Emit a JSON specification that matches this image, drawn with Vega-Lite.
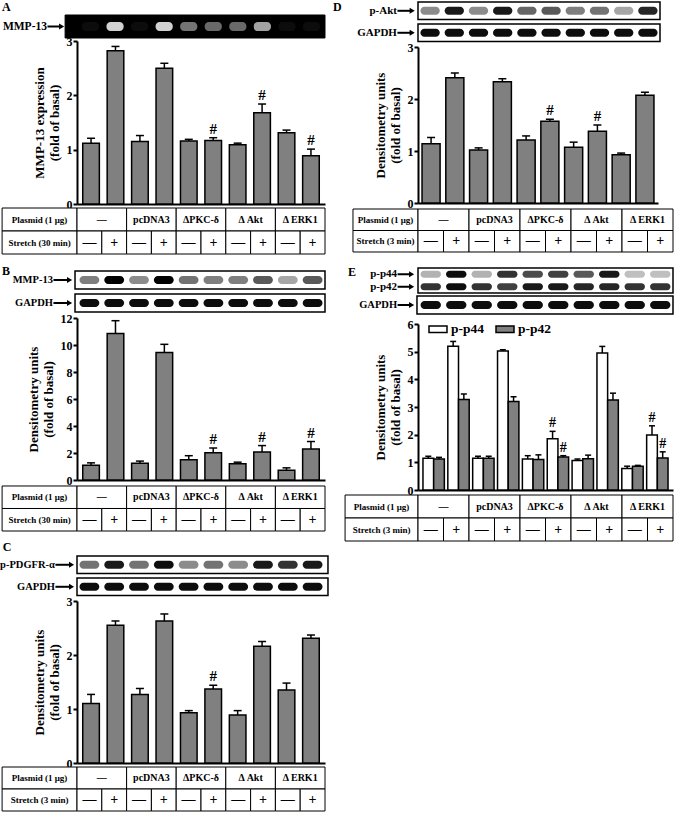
{
"$schema": "https://vega.github.io/schema/vega-lite/v6.json",
"background": "white",
"padding": {"left": 0, "top": 0, "right": 0, "bottom": 0},
"spacing": 4,
"resolve": {"scale": {"fill": "independent"}, "legend": {"fill": "independent"}},
"hconcat": [
{"bounds": "flush", "spacing": 0, "vconcat": [
  {"width": 248, "height": 39, "resolve": {"scale": {"x": "independent"}},
   "layer": [
    {"data": {"values": [{"strip": "MMP-13"}]},
     "encoding": {"y": {"field": "strip", "type": "nominal", "scale": {"domain": ["MMP-13"], "paddingInner": 0, "paddingOuter": 0.348, "align": 0.8125}, "axis": null}},
     "layer": [
      {"mark": {"type": "rect", "fill": "black", "stroke": "black", "strokeWidth": 1}, "encoding": {"x": {"datum": -0.48, "type": "quantitative", "scale": {"domain": [0, 10], "nice": false, "zero": false}, "axis": null}, "x2": {"datum": 10}}},
      {"mark": {"type": "text", "align": "right", "fontSize": 11.5}, "encoding": {"x": {"datum": -1.21, "type": "quantitative", "scale": {"domain": [0, 10], "nice": false, "zero": false}, "axis": null}, "text": {"field": "strip"}}},
      {"mark": {"type": "rule", "color": "black", "strokeWidth": 2}, "encoding": {"x": {"datum": -1.19, "type": "quantitative", "scale": {"domain": [0, 10], "nice": false, "zero": false}, "axis": null}, "x2": {"datum": -0.65}}},
      {"mark": {"type": "point", "shape": "triangle-right", "filled": true, "color": "black", "opacity": 1, "size": 35}, "encoding": {"x": {"datum": -0.62, "type": "quantitative", "scale": {"domain": [0, 10], "nice": false, "zero": false}, "axis": null}}},
      {"mark": {"type": "text", "align": "left", "dy": -19.5, "fontSize": 12}, "encoding": {"x": {"datum": -3.02, "type": "quantitative", "scale": {"domain": [0, 10], "nice": false, "zero": false}, "axis": null}, "text": {"value": "A"}}}
     ]},
    {"data": {"values": [
      {"lane": 1, "strip": "MMP-13", "v": 0.05}, {"lane": 2, "strip": "MMP-13", "v": 0.9},
      {"lane": 3, "strip": "MMP-13", "v": 0.05}, {"lane": 4, "strip": "MMP-13", "v": 0.9},
      {"lane": 5, "strip": "MMP-13", "v": 0.5}, {"lane": 6, "strip": "MMP-13", "v": 0.45},
      {"lane": 7, "strip": "MMP-13", "v": 0.45}, {"lane": 8, "strip": "MMP-13", "v": 0.7},
      {"lane": 9, "strip": "MMP-13", "v": 0.05}, {"lane": 10, "strip": "MMP-13", "v": 0.05}]},
     "mark": {"type": "rect", "fill": "#e8e8e8", "cornerRadius": 4, "height": {"band": 0.4}},
     "encoding": {
      "x": {"field": "lane", "type": "ordinal", "scale": {"paddingInner": 0.3, "paddingOuter": 0.2}, "axis": null},
      "y": {"field": "strip", "type": "nominal", "scale": {"domain": ["MMP-13"]}, "axis": null},
      "opacity": {"field": "v", "type": "quantitative", "scale": {"domain": [0, 1], "range": [0, 1]}, "legend": null}}}
   ]},
  {"width": 248, "height": 163,
   "data": {"values": [
    {"lane": 1, "mean": 1.12, "upper": 1.21, "sig": ""},
    {"lane": 2, "mean": 2.82, "upper": 2.9, "sig": ""},
    {"lane": 3, "mean": 1.15, "upper": 1.26, "sig": ""},
    {"lane": 4, "mean": 2.5, "upper": 2.59, "sig": ""},
    {"lane": 5, "mean": 1.16, "upper": 1.19, "sig": ""},
    {"lane": 6, "mean": 1.17, "upper": 1.22, "sig": "#"},
    {"lane": 7, "mean": 1.09, "upper": 1.12, "sig": ""},
    {"lane": 8, "mean": 1.68, "upper": 1.84, "sig": "#"},
    {"lane": 9, "mean": 1.31, "upper": 1.36, "sig": ""},
    {"lane": 10, "mean": 0.89, "upper": 1.01, "sig": "#"}]},
   "encoding": {"x": {"field": "lane", "type": "ordinal", "scale": {"paddingInner": 0.32, "paddingOuter": 0.235}, "axis": {"title": null, "labels": false, "ticks": false}}},
   "layer": [
    {"mark": {"type": "bar", "fill": "#808080", "stroke": "black", "strokeWidth": 1.5},
     "encoding": {"y": {"field": "mean", "type": "quantitative", "scale": {"domain": [0, 3], "nice": false}, "axis": {"values": [0, 1, 2, 3], "tickCount": 12, "labelOverlap": false, "title": ["MMP-13 expression", "(fold of basal)"]}}}},
    {"mark": {"type": "rule", "color": "black", "strokeWidth": 1.5}, "encoding": {"y": {"field": "mean", "type": "quantitative"}, "y2": {"field": "upper"}}},
    {"mark": {"type": "tick", "color": "black", "thickness": 1.5, "size": 8, "opacity": 1}, "encoding": {"y": {"field": "upper", "type": "quantitative"}}},
    {"mark": {"type": "text", "baseline": "bottom", "dy": -1, "fontSize": 15}, "encoding": {"y": {"field": "upper", "type": "quantitative"}, "text": {"field": "sig"}}}
   ]},
  {"width": 248, "height": 50, "resolve": {"scale": {"x": "independent"}},
   "layer": [
    {"data": {"values": [{"row": "Plasmid (1 μg)"}, {"row": "Stretch (30 min)"}]},
     "encoding": {"y": {"field": "row", "type": "nominal", "scale": {"paddingInner": 0, "paddingOuter": 0.087, "align": 1}, "axis": null}},
     "layer": [
      {"mark": {"type": "rect", "fill": "white", "stroke": "black", "strokeWidth": 1}, "encoding": {"x": {"datum": -3.02, "type": "quantitative", "scale": {"domain": [0, 10], "nice": false, "zero": false}, "axis": null}, "x2": {"datum": 0}}},
      {"mark": {"type": "text", "fontSize": 9}, "encoding": {"x": {"datum": -1.51, "type": "quantitative", "scale": {"domain": [0, 10], "nice": false, "zero": false}, "axis": null}, "text": {"field": "row"}}}
     ]},
    {"data": {"values": [{"grp": "—"}, {"grp": "pcDNA3"}, {"grp": "ΔPKC-δ"}, {"grp": "Δ Akt"}, {"grp": "Δ ERK1"}]},
     "encoding": {"x": {"field": "grp", "type": "nominal", "sort": null, "scale": {"paddingInner": 0, "paddingOuter": 0}, "axis": null}, "y": {"datum": "Plasmid (1 μg)", "type": "nominal", "axis": null}},
     "layer": [
      {"mark": {"type": "rect", "fill": "white", "stroke": "black", "strokeWidth": 1}, "encoding": {}},
      {"mark": {"type": "text", "fontSize": 10}, "encoding": {"text": {"field": "grp"}}}
     ]},
    {"data": {"values": [{"lane": 1, "s": "—"}, {"lane": 2, "s": "+"}, {"lane": 3, "s": "—"}, {"lane": 4, "s": "+"}, {"lane": 5, "s": "—"}, {"lane": 6, "s": "+"}, {"lane": 7, "s": "—"}, {"lane": 8, "s": "+"}, {"lane": 9, "s": "—"}, {"lane": 10, "s": "+"}]},
     "encoding": {"x": {"field": "lane", "type": "ordinal", "scale": {"paddingInner": 0, "paddingOuter": 0}, "axis": null}, "y": {"datum": "Stretch (30 min)", "type": "nominal", "axis": null}},
     "layer": [
      {"mark": {"type": "rect", "fill": "white", "stroke": "black", "strokeWidth": 1}, "encoding": {}},
      {"mark": {"type": "text", "fontSize": 14}, "encoding": {"text": {"field": "s"}}}
     ]}
   ]},
  {"width": 248, "height": 64, "resolve": {"scale": {"x": "independent"}},
   "layer": [
    {"data": {"values": [{"strip": "MMP-13"}, {"strip": "GAPDH"}]},
     "encoding": {"y": {"field": "strip", "type": "nominal", "scale": {"domain": ["MMP-13", "GAPDH"], "paddingInner": 0.217, "paddingOuter": 0.5, "align": 0.739}, "axis": null}},
     "layer": [
      {"mark": {"type": "rect", "fill": "white", "stroke": "black", "strokeWidth": 1.5}, "encoding": {"x": {"datum": -0.08, "type": "quantitative", "scale": {"domain": [0, 10], "nice": false, "zero": false}, "axis": null}, "x2": {"datum": 10}}},
      {"mark": {"type": "text", "align": "right", "fontSize": 10.5}, "encoding": {"x": {"datum": -0.97, "type": "quantitative", "scale": {"domain": [0, 10], "nice": false, "zero": false}, "axis": null}, "text": {"field": "strip"}}},
      {"mark": {"type": "rule", "color": "black", "strokeWidth": 2}, "encoding": {"x": {"datum": -0.95, "type": "quantitative", "scale": {"domain": [0, 10], "nice": false, "zero": false}, "axis": null}, "x2": {"datum": -0.35}}},
      {"mark": {"type": "point", "shape": "triangle-right", "filled": true, "color": "black", "opacity": 1, "size": 35}, "encoding": {"x": {"datum": -0.3, "type": "quantitative", "scale": {"domain": [0, 10], "nice": false, "zero": false}, "axis": null}}}
     ]},
    {"data": {"values": [{"t": "B"}]},
     "mark": {"type": "text", "align": "left", "dy": -9, "fontSize": 12},
     "encoding": {"x": {"datum": -3.02, "type": "quantitative", "scale": {"domain": [0, 10], "nice": false, "zero": false}, "axis": null}, "y": {"datum": "MMP-13", "type": "nominal", "scale": {"domain": ["MMP-13", "GAPDH"]}, "axis": null}, "text": {"field": "t"}}},
    {"data": {"values": [
      {"lane": 1, "strip": "MMP-13", "v": 0.5}, {"lane": 2, "strip": "MMP-13", "v": 1},
      {"lane": 3, "strip": "MMP-13", "v": 0.45}, {"lane": 4, "strip": "MMP-13", "v": 1},
      {"lane": 5, "strip": "MMP-13", "v": 0.55}, {"lane": 6, "strip": "MMP-13", "v": 0.5},
      {"lane": 7, "strip": "MMP-13", "v": 0.5}, {"lane": 8, "strip": "MMP-13", "v": 0.65},
      {"lane": 9, "strip": "MMP-13", "v": 0.35}, {"lane": 10, "strip": "MMP-13", "v": 0.65},
      {"lane": 1, "strip": "GAPDH", "v": 0.95}, {"lane": 2, "strip": "GAPDH", "v": 0.95},
      {"lane": 3, "strip": "GAPDH", "v": 0.95}, {"lane": 4, "strip": "GAPDH", "v": 0.95},
      {"lane": 5, "strip": "GAPDH", "v": 0.95}, {"lane": 6, "strip": "GAPDH", "v": 0.95},
      {"lane": 7, "strip": "GAPDH", "v": 0.95}, {"lane": 8, "strip": "GAPDH", "v": 0.95},
      {"lane": 9, "strip": "GAPDH", "v": 0.95}, {"lane": 10, "strip": "GAPDH", "v": 0.95}]},
     "mark": {"type": "rect", "fill": "black", "cornerRadius": 4, "height": {"band": 0.45}},
     "encoding": {
      "x": {"field": "lane", "type": "ordinal", "scale": {"paddingInner": 0.2, "paddingOuter": 0.1}, "axis": null},
      "y": {"field": "strip", "type": "nominal", "scale": {"domain": ["MMP-13", "GAPDH"]}, "axis": null},
      "opacity": {"field": "v", "type": "quantitative", "scale": {"domain": [0, 1], "range": [0, 1]}, "legend": null}}}
   ]},
  {"width": 248, "height": 162,
   "data": {"values": [
    {"lane": 1, "mean": 1.1, "upper": 1.27, "sig": ""},
    {"lane": 2, "mean": 10.85, "upper": 11.8, "sig": ""},
    {"lane": 3, "mean": 1.25, "upper": 1.4, "sig": ""},
    {"lane": 4, "mean": 9.45, "upper": 10.05, "sig": ""},
    {"lane": 5, "mean": 1.5, "upper": 1.8, "sig": ""},
    {"lane": 6, "mean": 2.02, "upper": 2.37, "sig": "#"},
    {"lane": 7, "mean": 1.2, "upper": 1.32, "sig": ""},
    {"lane": 8, "mean": 2.08, "upper": 2.55, "sig": "#"},
    {"lane": 9, "mean": 0.72, "upper": 0.9, "sig": ""},
    {"lane": 10, "mean": 2.3, "upper": 2.85, "sig": "#"}]},
   "encoding": {"x": {"field": "lane", "type": "ordinal", "scale": {"paddingInner": 0.32, "paddingOuter": 0.235}, "axis": {"title": null, "labels": false, "ticks": false}}},
   "layer": [
    {"mark": {"type": "bar", "fill": "#808080", "stroke": "black", "strokeWidth": 1.5},
     "encoding": {"y": {"field": "mean", "type": "quantitative", "scale": {"domain": [0, 12], "nice": false}, "axis": {"values": [0, 2, 4, 6, 8, 10, 12], "tickCount": 12, "labelOverlap": false, "title": ["Densitometry units", "(fold of basal)"]}}}},
    {"mark": {"type": "rule", "color": "black", "strokeWidth": 1.5}, "encoding": {"y": {"field": "mean", "type": "quantitative"}, "y2": {"field": "upper"}}},
    {"mark": {"type": "tick", "color": "black", "thickness": 1.5, "size": 8, "opacity": 1}, "encoding": {"y": {"field": "upper", "type": "quantitative"}}},
    {"mark": {"type": "text", "baseline": "bottom", "dy": -1, "fontSize": 15}, "encoding": {"y": {"field": "upper", "type": "quantitative"}, "text": {"field": "sig"}}}
   ]},
  {"width": 248, "height": 51, "resolve": {"scale": {"x": "independent"}},
   "layer": [
    {"data": {"values": [{"row": "Plasmid (1 μg)"}, {"row": "Stretch (30 min)"}]},
     "encoding": {"y": {"field": "row", "type": "nominal", "scale": {"paddingInner": 0, "paddingOuter": 0.133, "align": 1}, "axis": null}},
     "layer": [
      {"mark": {"type": "rect", "fill": "white", "stroke": "black", "strokeWidth": 1}, "encoding": {"x": {"datum": -3.02, "type": "quantitative", "scale": {"domain": [0, 10], "nice": false, "zero": false}, "axis": null}, "x2": {"datum": 0}}},
      {"mark": {"type": "text", "fontSize": 9}, "encoding": {"x": {"datum": -1.51, "type": "quantitative", "scale": {"domain": [0, 10], "nice": false, "zero": false}, "axis": null}, "text": {"field": "row"}}}
     ]},
    {"data": {"values": [{"grp": "—"}, {"grp": "pcDNA3"}, {"grp": "ΔPKC-δ"}, {"grp": "Δ Akt"}, {"grp": "Δ ERK1"}]},
     "encoding": {"x": {"field": "grp", "type": "nominal", "sort": null, "scale": {"paddingInner": 0, "paddingOuter": 0}, "axis": null}, "y": {"datum": "Plasmid (1 μg)", "type": "nominal", "axis": null}},
     "layer": [
      {"mark": {"type": "rect", "fill": "white", "stroke": "black", "strokeWidth": 1}, "encoding": {}},
      {"mark": {"type": "text", "fontSize": 10}, "encoding": {"text": {"field": "grp"}}}
     ]},
    {"data": {"values": [{"lane": 1, "s": "—"}, {"lane": 2, "s": "+"}, {"lane": 3, "s": "—"}, {"lane": 4, "s": "+"}, {"lane": 5, "s": "—"}, {"lane": 6, "s": "+"}, {"lane": 7, "s": "—"}, {"lane": 8, "s": "+"}, {"lane": 9, "s": "—"}, {"lane": 10, "s": "+"}]},
     "encoding": {"x": {"field": "lane", "type": "ordinal", "scale": {"paddingInner": 0, "paddingOuter": 0}, "axis": null}, "y": {"datum": "Stretch (30 min)", "type": "nominal", "axis": null}},
     "layer": [
      {"mark": {"type": "rect", "fill": "white", "stroke": "black", "strokeWidth": 1}, "encoding": {}},
      {"mark": {"type": "text", "fontSize": 14}, "encoding": {"text": {"field": "s"}}}
     ]}
   ]},
  {"width": 248, "height": 70, "resolve": {"scale": {"x": "independent"}},
   "layer": [
    {"data": {"values": [{"strip": "p-PDGFR-α"}, {"strip": "GAPDH"}]},
     "encoding": {"y": {"field": "strip", "type": "nominal", "scale": {"domain": ["p-PDGFR-α", "GAPDH"], "paddingInner": 0.2, "paddingOuter": 0.69, "align": 0.822}, "axis": null}},
     "layer": [
      {"mark": {"type": "rect", "fill": "white", "stroke": "black", "strokeWidth": 1.5}, "encoding": {"x": {"datum": 0, "type": "quantitative", "scale": {"domain": [0, 10], "nice": false, "zero": false}, "axis": null}, "x2": {"datum": 10.12}}},
      {"mark": {"type": "text", "align": "right", "fontSize": 10.5}, "encoding": {"x": {"datum": -0.89, "type": "quantitative", "scale": {"domain": [0, 10], "nice": false, "zero": false}, "axis": null}, "text": {"field": "strip"}}},
      {"mark": {"type": "rule", "color": "black", "strokeWidth": 2}, "encoding": {"x": {"datum": -0.87, "type": "quantitative", "scale": {"domain": [0, 10], "nice": false, "zero": false}, "axis": null}, "x2": {"datum": -0.27}}},
      {"mark": {"type": "point", "shape": "triangle-right", "filled": true, "color": "black", "opacity": 1, "size": 35}, "encoding": {"x": {"datum": -0.22, "type": "quantitative", "scale": {"domain": [0, 10], "nice": false, "zero": false}, "axis": null}}}
     ]},
    {"data": {"values": [{"t": "C"}]},
     "mark": {"type": "text", "align": "left", "dy": -18, "fontSize": 12},
     "encoding": {"x": {"datum": -2.99, "type": "quantitative", "scale": {"domain": [0, 10], "nice": false, "zero": false}, "axis": null}, "y": {"datum": "p-PDGFR-α", "type": "nominal", "scale": {"domain": ["p-PDGFR-α", "GAPDH"]}, "axis": null}, "text": {"field": "t"}}},
    {"data": {"values": [
      {"lane": 1, "strip": "p-PDGFR-α", "v": 0.55}, {"lane": 2, "strip": "p-PDGFR-α", "v": 0.9},
      {"lane": 3, "strip": "p-PDGFR-α", "v": 0.55}, {"lane": 4, "strip": "p-PDGFR-α", "v": 0.95},
      {"lane": 5, "strip": "p-PDGFR-α", "v": 0.45}, {"lane": 6, "strip": "p-PDGFR-α", "v": 0.55},
      {"lane": 7, "strip": "p-PDGFR-α", "v": 0.45}, {"lane": 8, "strip": "p-PDGFR-α", "v": 0.9},
      {"lane": 9, "strip": "p-PDGFR-α", "v": 0.8}, {"lane": 10, "strip": "p-PDGFR-α", "v": 0.9},
      {"lane": 1, "strip": "GAPDH", "v": 0.95}, {"lane": 2, "strip": "GAPDH", "v": 0.95},
      {"lane": 3, "strip": "GAPDH", "v": 0.95}, {"lane": 4, "strip": "GAPDH", "v": 0.95},
      {"lane": 5, "strip": "GAPDH", "v": 0.95}, {"lane": 6, "strip": "GAPDH", "v": 0.95},
      {"lane": 7, "strip": "GAPDH", "v": 0.95}, {"lane": 8, "strip": "GAPDH", "v": 0.95},
      {"lane": 9, "strip": "GAPDH", "v": 0.95}, {"lane": 10, "strip": "GAPDH", "v": 0.95}]},
     "mark": {"type": "rect", "fill": "black", "cornerRadius": 4, "height": {"band": 0.45}},
     "encoding": {
      "x": {"field": "lane", "type": "ordinal", "scale": {"paddingInner": 0.2, "paddingOuter": 0.1}, "axis": null},
      "y": {"field": "strip", "type": "nominal", "scale": {"domain": ["p-PDGFR-α", "GAPDH"]}, "axis": null},
      "opacity": {"field": "v", "type": "quantitative", "scale": {"domain": [0, 1], "range": [0, 1]}, "legend": null}}}
   ]},
  {"width": 248, "height": 162,
   "data": {"values": [
    {"lane": 1, "mean": 1.1, "upper": 1.27, "sig": ""},
    {"lane": 2, "mean": 2.55, "upper": 2.63, "sig": ""},
    {"lane": 3, "mean": 1.27, "upper": 1.38, "sig": ""},
    {"lane": 4, "mean": 2.63, "upper": 2.76, "sig": ""},
    {"lane": 5, "mean": 0.93, "upper": 0.97, "sig": ""},
    {"lane": 6, "mean": 1.37, "upper": 1.44, "sig": "#"},
    {"lane": 7, "mean": 0.89, "upper": 0.97, "sig": ""},
    {"lane": 8, "mean": 2.16, "upper": 2.25, "sig": ""},
    {"lane": 9, "mean": 1.35, "upper": 1.48, "sig": ""},
    {"lane": 10, "mean": 2.31, "upper": 2.37, "sig": ""}]},
   "encoding": {"x": {"field": "lane", "type": "ordinal", "scale": {"paddingInner": 0.32, "paddingOuter": 0.235}, "axis": {"title": null, "labels": false, "ticks": false}}},
   "layer": [
    {"mark": {"type": "bar", "fill": "#808080", "stroke": "black", "strokeWidth": 1.5},
     "encoding": {"y": {"field": "mean", "type": "quantitative", "scale": {"domain": [0, 3], "nice": false}, "axis": {"values": [0, 1, 2, 3], "tickCount": 12, "labelOverlap": false, "title": ["Densitometry units", "(fold of basal)"]}}}},
    {"mark": {"type": "rule", "color": "black", "strokeWidth": 1.5}, "encoding": {"y": {"field": "mean", "type": "quantitative"}, "y2": {"field": "upper"}}},
    {"mark": {"type": "tick", "color": "black", "thickness": 1.5, "size": 8, "opacity": 1}, "encoding": {"y": {"field": "upper", "type": "quantitative"}}},
    {"mark": {"type": "text", "baseline": "bottom", "dy": -1, "fontSize": 15}, "encoding": {"y": {"field": "upper", "type": "quantitative"}, "text": {"field": "sig"}}}
   ]},
  {"width": 248, "height": 48, "resolve": {"scale": {"x": "independent"}},
   "layer": [
    {"data": {"values": [{"row": "Plasmid (1 μg)"}, {"row": "Stretch (3 min)"}]},
     "encoding": {"y": {"field": "row", "type": "nominal", "scale": {"paddingInner": 0, "paddingOuter": 0.091, "align": 1}, "axis": null}},
     "layer": [
      {"mark": {"type": "rect", "fill": "white", "stroke": "black", "strokeWidth": 1}, "encoding": {"x": {"datum": -3.02, "type": "quantitative", "scale": {"domain": [0, 10], "nice": false, "zero": false}, "axis": null}, "x2": {"datum": 0}}},
      {"mark": {"type": "text", "fontSize": 9}, "encoding": {"x": {"datum": -1.51, "type": "quantitative", "scale": {"domain": [0, 10], "nice": false, "zero": false}, "axis": null}, "text": {"field": "row"}}}
     ]},
    {"data": {"values": [{"grp": "—"}, {"grp": "pcDNA3"}, {"grp": "ΔPKC-δ"}, {"grp": "Δ Akt"}, {"grp": "Δ ERK1"}]},
     "encoding": {"x": {"field": "grp", "type": "nominal", "sort": null, "scale": {"paddingInner": 0, "paddingOuter": 0}, "axis": null}, "y": {"datum": "Plasmid (1 μg)", "type": "nominal", "axis": null}},
     "layer": [
      {"mark": {"type": "rect", "fill": "white", "stroke": "black", "strokeWidth": 1}, "encoding": {}},
      {"mark": {"type": "text", "fontSize": 10}, "encoding": {"text": {"field": "grp"}}}
     ]},
    {"data": {"values": [{"lane": 1, "s": "—"}, {"lane": 2, "s": "+"}, {"lane": 3, "s": "—"}, {"lane": 4, "s": "+"}, {"lane": 5, "s": "—"}, {"lane": 6, "s": "+"}, {"lane": 7, "s": "—"}, {"lane": 8, "s": "+"}, {"lane": 9, "s": "—"}, {"lane": 10, "s": "+"}]},
     "encoding": {"x": {"field": "lane", "type": "ordinal", "scale": {"paddingInner": 0, "paddingOuter": 0}, "axis": null}, "y": {"datum": "Stretch (3 min)", "type": "nominal", "axis": null}},
     "layer": [
      {"mark": {"type": "rect", "fill": "white", "stroke": "black", "strokeWidth": 1}, "encoding": {}},
      {"mark": {"type": "text", "fontSize": 14}, "encoding": {"text": {"field": "s"}}}
     ]}
   ]}
]},
{"bounds": "flush", "spacing": 0, "resolve": {"scale": {"fill": "independent"}, "legend": {"fill": "independent"}}, "vconcat": [
  {"width": 242, "height": 45, "resolve": {"scale": {"x": "independent"}},
   "layer": [
    {"data": {"values": [{"strip": "p-Akt"}, {"strip": "GAPDH"}]},
     "encoding": {"y": {"field": "strip", "type": "nominal", "scale": {"domain": ["p-Akt", "GAPDH"], "paddingInner": 0.2, "paddingOuter": 0.123, "align": 0}, "axis": null}},
     "layer": [
      {"mark": {"type": "rect", "fill": "white", "stroke": "black", "strokeWidth": 1.5}, "encoding": {"x": {"datum": 0, "type": "quantitative", "scale": {"domain": [0, 10], "nice": false, "zero": false}, "axis": null}, "x2": {"datum": 10}}},
      {"mark": {"type": "text", "align": "right", "fontSize": 11}, "encoding": {"x": {"datum": -0.87, "type": "quantitative", "scale": {"domain": [0, 10], "nice": false, "zero": false}, "axis": null}, "text": {"field": "strip"}}},
      {"mark": {"type": "rule", "color": "black", "strokeWidth": 2}, "encoding": {"x": {"datum": -0.85, "type": "quantitative", "scale": {"domain": [0, 10], "nice": false, "zero": false}, "axis": null}, "x2": {"datum": -0.3}}},
      {"mark": {"type": "point", "shape": "triangle-right", "filled": true, "color": "black", "opacity": 1, "size": 35}, "encoding": {"x": {"datum": -0.24, "type": "quantitative", "scale": {"domain": [0, 10], "nice": false, "zero": false}, "axis": null}}}
     ]},
    {"data": {"values": [{"t": "D"}]},
     "mark": {"type": "text", "align": "left", "dy": -4, "fontSize": 12},
     "encoding": {"x": {"datum": -3.51, "type": "quantitative", "scale": {"domain": [0, 10], "nice": false, "zero": false}, "axis": null}, "y": {"datum": "p-Akt", "type": "nominal", "scale": {"domain": ["p-Akt", "GAPDH"]}, "axis": null}, "text": {"field": "t"}}},
    {"data": {"values": [
      {"lane": 1, "strip": "p-Akt", "v": 0.45}, {"lane": 2, "strip": "p-Akt", "v": 0.9},
      {"lane": 3, "strip": "p-Akt", "v": 0.45}, {"lane": 4, "strip": "p-Akt", "v": 0.9},
      {"lane": 5, "strip": "p-Akt", "v": 0.6}, {"lane": 6, "strip": "p-Akt", "v": 0.65},
      {"lane": 7, "strip": "p-Akt", "v": 0.5}, {"lane": 8, "strip": "p-Akt", "v": 0.55},
      {"lane": 9, "strip": "p-Akt", "v": 0.35}, {"lane": 10, "strip": "p-Akt", "v": 0.85},
      {"lane": 1, "strip": "GAPDH", "v": 0.95}, {"lane": 2, "strip": "GAPDH", "v": 0.95},
      {"lane": 3, "strip": "GAPDH", "v": 0.95}, {"lane": 4, "strip": "GAPDH", "v": 0.95},
      {"lane": 5, "strip": "GAPDH", "v": 0.95}, {"lane": 6, "strip": "GAPDH", "v": 0.95},
      {"lane": 7, "strip": "GAPDH", "v": 0.95}, {"lane": 8, "strip": "GAPDH", "v": 0.95},
      {"lane": 9, "strip": "GAPDH", "v": 0.95}, {"lane": 10, "strip": "GAPDH", "v": 0.95}]},
     "mark": {"type": "rect", "fill": "black", "cornerRadius": 4, "height": {"band": 0.45}},
     "encoding": {
      "x": {"field": "lane", "type": "ordinal", "scale": {"paddingInner": 0.2, "paddingOuter": 0.1}, "axis": null},
      "y": {"field": "strip", "type": "nominal", "scale": {"domain": ["p-Akt", "GAPDH"]}, "axis": null},
      "opacity": {"field": "v", "type": "quantitative", "scale": {"domain": [0, 1], "range": [0, 1]}, "legend": null}}}
   ]},
  {"width": 240, "height": 156,
   "data": {"values": [
    {"lane": 1, "mean": 1.14, "upper": 1.26, "sig": ""},
    {"lane": 2, "mean": 2.41, "upper": 2.5, "sig": ""},
    {"lane": 3, "mean": 1.02, "upper": 1.06, "sig": ""},
    {"lane": 4, "mean": 2.33, "upper": 2.39, "sig": ""},
    {"lane": 5, "mean": 1.21, "upper": 1.29, "sig": ""},
    {"lane": 6, "mean": 1.57, "upper": 1.61, "sig": "#"},
    {"lane": 7, "mean": 1.07, "upper": 1.17, "sig": ""},
    {"lane": 8, "mean": 1.38, "upper": 1.5, "sig": "#"},
    {"lane": 9, "mean": 0.93, "upper": 0.96, "sig": ""},
    {"lane": 10, "mean": 2.07, "upper": 2.13, "sig": ""}]},
   "encoding": {"x": {"field": "lane", "type": "ordinal", "scale": {"paddingInner": 0.24, "paddingOuter": 0.17}, "axis": {"title": null, "labels": false, "ticks": false}}},
   "layer": [
    {"mark": {"type": "bar", "fill": "#808080", "stroke": "black", "strokeWidth": 1.5},
     "encoding": {"y": {"field": "mean", "type": "quantitative", "scale": {"domain": [0, 3], "nice": false}, "axis": {"values": [0, 1, 2, 3], "tickCount": 12, "labelOverlap": false, "title": ["Densitometry units", "(fold of basal)"]}}}},
    {"mark": {"type": "rule", "color": "black", "strokeWidth": 1.5}, "encoding": {"y": {"field": "mean", "type": "quantitative"}, "y2": {"field": "upper"}}},
    {"mark": {"type": "tick", "color": "black", "thickness": 1.5, "size": 8, "opacity": 1}, "encoding": {"y": {"field": "upper", "type": "quantitative"}}},
    {"mark": {"type": "text", "baseline": "bottom", "dy": -1, "fontSize": 15}, "encoding": {"y": {"field": "upper", "type": "quantitative"}, "text": {"field": "sig"}}}
   ]},
  {"width": 255, "height": 65, "resolve": {"scale": {"x": "independent"}},
   "layer": [
    {"data": {"values": [{"row": "Plasmid (1 μg)"}, {"row": "Stretch (3 min)"}]},
     "encoding": {"y": {"field": "row", "type": "nominal", "scale": {"paddingInner": 0, "paddingOuter": 0.512, "align": 0.273}, "axis": null}},
     "layer": [
      {"mark": {"type": "rect", "fill": "white", "stroke": "black", "strokeWidth": 1}, "encoding": {"x": {"datum": -2.55, "type": "quantitative", "scale": {"domain": [0, 10], "nice": false, "zero": false}, "axis": null}, "x2": {"datum": 0}}},
      {"mark": {"type": "text", "fontSize": 9}, "encoding": {"x": {"datum": -1.275, "type": "quantitative", "scale": {"domain": [0, 10], "nice": false, "zero": false}, "axis": null}, "text": {"field": "row"}}}
     ]},
    {"data": {"values": [{"grp": "—"}, {"grp": "pcDNA3"}, {"grp": "ΔPKC-δ"}, {"grp": "Δ Akt"}, {"grp": "Δ ERK1"}]},
     "encoding": {"x": {"field": "grp", "type": "nominal", "sort": null, "scale": {"paddingInner": 0, "paddingOuter": 0}, "axis": null}, "y": {"datum": "Plasmid (1 μg)", "type": "nominal", "axis": null}},
     "layer": [
      {"mark": {"type": "rect", "fill": "white", "stroke": "black", "strokeWidth": 1}, "encoding": {}},
      {"mark": {"type": "text", "fontSize": 10}, "encoding": {"text": {"field": "grp"}}}
     ]},
    {"data": {"values": [{"lane": 1, "s": "—"}, {"lane": 2, "s": "+"}, {"lane": 3, "s": "—"}, {"lane": 4, "s": "+"}, {"lane": 5, "s": "—"}, {"lane": 6, "s": "+"}, {"lane": 7, "s": "—"}, {"lane": 8, "s": "+"}, {"lane": 9, "s": "—"}, {"lane": 10, "s": "+"}]},
     "encoding": {"x": {"field": "lane", "type": "ordinal", "scale": {"paddingInner": 0, "paddingOuter": 0}, "axis": null}, "y": {"datum": "Stretch (3 min)", "type": "nominal", "axis": null}},
     "layer": [
      {"mark": {"type": "rect", "fill": "white", "stroke": "black", "strokeWidth": 1}, "encoding": {}},
      {"mark": {"type": "text", "fontSize": 14}, "encoding": {"text": {"field": "s"}}}
     ]}
   ]},
  {"width": 255, "height": 25, "view": {"stroke": "black", "strokeWidth": 1.5, "fill": "white"}, "resolve": {"scale": {"x": "independent"}},
   "layer": [
    {"data": {"values": [{"strip": "p-p44"}, {"strip": "p-p42"}]},
     "encoding": {"y": {"field": "strip", "type": "nominal", "scale": {"domain": ["p-p44", "p-p42"], "paddingInner": 0, "paddingOuter": 0}, "axis": null}},
     "layer": [
      {"mark": {"type": "text", "align": "right", "fontSize": 11}, "encoding": {"x": {"datum": -0.82, "type": "quantitative", "scale": {"domain": [0, 10], "nice": false, "zero": false}, "axis": null}, "text": {"field": "strip"}}},
      {"mark": {"type": "rule", "color": "black", "strokeWidth": 2}, "encoding": {"x": {"datum": -0.8, "type": "quantitative", "scale": {"domain": [0, 10], "nice": false, "zero": false}, "axis": null}, "x2": {"datum": -0.3}}},
      {"mark": {"type": "point", "shape": "triangle-right", "filled": true, "color": "black", "opacity": 1, "size": 35}, "encoding": {"x": {"datum": -0.25, "type": "quantitative", "scale": {"domain": [0, 10], "nice": false, "zero": false}, "axis": null}}}
     ]},
    {"data": {"values": [{"t": "E"}]},
     "mark": {"type": "text", "align": "left", "dy": -2, "fontSize": 12},
     "encoding": {"x": {"datum": -2.75, "type": "quantitative", "scale": {"domain": [0, 10], "nice": false, "zero": false}, "axis": null}, "y": {"datum": "p-p44", "type": "nominal", "scale": {"domain": ["p-p44", "p-p42"]}, "axis": null}, "text": {"field": "t"}}},
    {"data": {"values": [
      {"lane": 1, "strip": "p-p44", "v": 0.3}, {"lane": 2, "strip": "p-p44", "v": 0.95},
      {"lane": 3, "strip": "p-p44", "v": 0.3}, {"lane": 4, "strip": "p-p44", "v": 0.8},
      {"lane": 5, "strip": "p-p44", "v": 0.7}, {"lane": 6, "strip": "p-p44", "v": 0.75},
      {"lane": 7, "strip": "p-p44", "v": 0.65}, {"lane": 8, "strip": "p-p44", "v": 0.9},
      {"lane": 9, "strip": "p-p44", "v": 0.25}, {"lane": 10, "strip": "p-p44", "v": 0.25},
      {"lane": 1, "strip": "p-p42", "v": 0.8}, {"lane": 2, "strip": "p-p42", "v": 0.95},
      {"lane": 3, "strip": "p-p42", "v": 0.8}, {"lane": 4, "strip": "p-p42", "v": 0.75},
      {"lane": 5, "strip": "p-p42", "v": 0.9}, {"lane": 6, "strip": "p-p42", "v": 0.9},
      {"lane": 7, "strip": "p-p42", "v": 0.85}, {"lane": 8, "strip": "p-p42", "v": 0.85},
      {"lane": 9, "strip": "p-p42", "v": 0.8}, {"lane": 10, "strip": "p-p42", "v": 0.8}]},
     "mark": {"type": "rect", "fill": "black", "cornerRadius": 4, "height": {"band": 0.55}},
     "encoding": {
      "x": {"field": "lane", "type": "ordinal", "scale": {"paddingInner": 0.2, "paddingOuter": 0.1}, "axis": null},
      "y": {"field": "strip", "type": "nominal", "scale": {"domain": ["p-p44", "p-p42"]}, "axis": null},
      "opacity": {"field": "v", "type": "quantitative", "scale": {"domain": [0, 1], "range": [0, 1]}, "legend": null}}}
   ]},
  {"width": 255, "height": 31, "resolve": {"scale": {"x": "independent"}},
   "layer": [
    {"data": {"values": [{"strip": "GAPDH"}]},
     "encoding": {"y": {"field": "strip", "type": "nominal", "scale": {"domain": ["GAPDH"], "paddingInner": 0, "paddingOuter": 0.361, "align": 0.23}, "axis": null}},
     "layer": [
      {"mark": {"type": "rect", "fill": "white", "stroke": "black", "strokeWidth": 1.5}, "encoding": {"x": {"datum": -0.04, "type": "quantitative", "scale": {"domain": [0, 10], "nice": false, "zero": false}, "axis": null}, "x2": {"datum": 10}}},
      {"mark": {"type": "text", "align": "right", "fontSize": 10.5}, "encoding": {"x": {"datum": -0.82, "type": "quantitative", "scale": {"domain": [0, 10], "nice": false, "zero": false}, "axis": null}, "text": {"field": "strip"}}},
      {"mark": {"type": "rule", "color": "black", "strokeWidth": 2}, "encoding": {"x": {"datum": -0.8, "type": "quantitative", "scale": {"domain": [0, 10], "nice": false, "zero": false}, "axis": null}, "x2": {"datum": -0.3}}},
      {"mark": {"type": "point", "shape": "triangle-right", "filled": true, "color": "black", "opacity": 1, "size": 35}, "encoding": {"x": {"datum": -0.25, "type": "quantitative", "scale": {"domain": [0, 10], "nice": false, "zero": false}, "axis": null}}}
     ]},
    {"data": {"values": [
      {"lane": 1, "strip": "GAPDH", "v": 0.95}, {"lane": 2, "strip": "GAPDH", "v": 0.95},
      {"lane": 3, "strip": "GAPDH", "v": 0.95}, {"lane": 4, "strip": "GAPDH", "v": 0.95},
      {"lane": 5, "strip": "GAPDH", "v": 0.95}, {"lane": 6, "strip": "GAPDH", "v": 0.95},
      {"lane": 7, "strip": "GAPDH", "v": 0.95}, {"lane": 8, "strip": "GAPDH", "v": 0.95},
      {"lane": 9, "strip": "GAPDH", "v": 0.95}, {"lane": 10, "strip": "GAPDH", "v": 0.95}]},
     "mark": {"type": "rect", "fill": "black", "cornerRadius": 4, "height": {"band": 0.45}},
     "encoding": {
      "x": {"field": "lane", "type": "ordinal", "scale": {"paddingInner": 0.2, "paddingOuter": 0.1}, "axis": null},
      "y": {"field": "strip", "type": "nominal", "scale": {"domain": ["GAPDH"]}, "axis": null},
      "opacity": {"field": "v", "type": "quantitative", "scale": {"domain": [0, 1], "range": [0, 1]}, "legend": null}}}
   ]},
  {"width": 255, "height": 166,
   "data": {"values": [
    {"lane": 1, "series": "p-p44", "mean": 1.15, "upper": 1.22, "sig": ""},
    {"lane": 1, "series": "p-p42", "mean": 1.12, "upper": 1.18, "sig": ""},
    {"lane": 2, "series": "p-p44", "mean": 5.2, "upper": 5.37, "sig": ""},
    {"lane": 2, "series": "p-p42", "mean": 3.27, "upper": 3.47, "sig": ""},
    {"lane": 3, "series": "p-p44", "mean": 1.15, "upper": 1.22, "sig": ""},
    {"lane": 3, "series": "p-p42", "mean": 1.15, "upper": 1.22, "sig": ""},
    {"lane": 4, "series": "p-p44", "mean": 5.02, "upper": 5.07, "sig": ""},
    {"lane": 4, "series": "p-p42", "mean": 3.2, "upper": 3.37, "sig": ""},
    {"lane": 5, "series": "p-p44", "mean": 1.12, "upper": 1.24, "sig": ""},
    {"lane": 5, "series": "p-p42", "mean": 1.1, "upper": 1.27, "sig": ""},
    {"lane": 6, "series": "p-p44", "mean": 1.85, "upper": 2.12, "sig": "#"},
    {"lane": 6, "series": "p-p42", "mean": 1.19, "upper": 1.24, "sig": "#"},
    {"lane": 7, "series": "p-p44", "mean": 1.07, "upper": 1.12, "sig": ""},
    {"lane": 7, "series": "p-p42", "mean": 1.13, "upper": 1.26, "sig": ""},
    {"lane": 8, "series": "p-p44", "mean": 4.95, "upper": 5.19, "sig": ""},
    {"lane": 8, "series": "p-p42", "mean": 3.25, "upper": 3.5, "sig": ""},
    {"lane": 9, "series": "p-p44", "mean": 0.78, "upper": 0.86, "sig": ""},
    {"lane": 9, "series": "p-p42", "mean": 0.86, "upper": 0.89, "sig": ""},
    {"lane": 10, "series": "p-p44", "mean": 1.99, "upper": 2.32, "sig": "#"},
    {"lane": 10, "series": "p-p42", "mean": 1.16, "upper": 1.38, "sig": "#"}]},
   "encoding": {
    "x": {"field": "lane", "type": "ordinal", "scale": {"paddingInner": 0.14, "paddingOuter": 0.2}, "axis": {"title": null, "labels": false, "ticks": false}},
    "xOffset": {"field": "series", "type": "nominal", "scale": {"domain": ["p-p44", "p-p42"], "paddingInner": 0, "paddingOuter": 0}}},
   "layer": [
    {"mark": {"type": "bar", "stroke": "black", "strokeWidth": 1.5},
     "encoding": {"y": {"field": "mean", "type": "quantitative", "stack": null, "scale": {"domain": [0, 6], "nice": false}, "axis": {"values": [0, 1, 2, 3, 4, 5, 6], "tickCount": 12, "labelOverlap": false, "title": ["Densitometry units", "(fold of basal)"]}},
      "fill": {"field": "series", "type": "nominal", "scale": {"domain": ["p-p44", "p-p42"], "range": ["white", "#808080"]},
       "legend": {"title": null, "orient": "none", "legendX": 10, "legendY": -5, "direction": "horizontal", "padding": 0, "symbolType": "M-1,-0.36H1V0.36H-1Z", "symbolSize": 324, "symbolStrokeColor": "black", "symbolStrokeWidth": 1.5, "symbolOpacity": 1, "labelFontSize": 13.5, "labelFontWeight": "bold", "labelColor": "black", "labelOffset": 3, "columnPadding": 8}}}},
    {"mark": {"type": "rule", "color": "black", "strokeWidth": 1.5}, "encoding": {"y": {"field": "mean", "type": "quantitative"}, "y2": {"field": "upper"}}},
    {"mark": {"type": "tick", "color": "black", "thickness": 1.5, "size": 6, "opacity": 1}, "encoding": {"y": {"field": "upper", "type": "quantitative"}}},
    {"mark": {"type": "text", "baseline": "bottom", "dy": -1, "fontSize": 14}, "encoding": {"y": {"field": "upper", "type": "quantitative"}, "text": {"field": "sig"}}}
   ]},
  {"width": 255, "height": 51, "resolve": {"scale": {"x": "independent"}},
   "layer": [
    {"data": {"values": [{"row": "Plasmid (1 μg)"}, {"row": "Stretch (3 min)"}]},
     "encoding": {"y": {"field": "row", "type": "nominal", "scale": {"paddingInner": 0, "paddingOuter": 0.109, "align": 1}, "axis": null}},
     "layer": [
      {"mark": {"type": "rect", "fill": "white", "stroke": "black", "strokeWidth": 1}, "encoding": {"x": {"datum": -2.86, "type": "quantitative", "scale": {"domain": [0, 10], "nice": false, "zero": false}, "axis": null}, "x2": {"datum": 0}}},
      {"mark": {"type": "text", "fontSize": 9}, "encoding": {"x": {"datum": -1.43, "type": "quantitative", "scale": {"domain": [0, 10], "nice": false, "zero": false}, "axis": null}, "text": {"field": "row"}}}
     ]},
    {"data": {"values": [{"grp": "—"}, {"grp": "pcDNA3"}, {"grp": "ΔPKC-δ"}, {"grp": "Δ Akt"}, {"grp": "Δ ERK1"}]},
     "encoding": {"x": {"field": "grp", "type": "nominal", "sort": null, "scale": {"paddingInner": 0, "paddingOuter": 0}, "axis": null}, "y": {"datum": "Plasmid (1 μg)", "type": "nominal", "axis": null}},
     "layer": [
      {"mark": {"type": "rect", "fill": "white", "stroke": "black", "strokeWidth": 1}, "encoding": {}},
      {"mark": {"type": "text", "fontSize": 10}, "encoding": {"text": {"field": "grp"}}}
     ]},
    {"data": {"values": [{"lane": 1, "s": "—"}, {"lane": 2, "s": "+"}, {"lane": 3, "s": "—"}, {"lane": 4, "s": "+"}, {"lane": 5, "s": "—"}, {"lane": 6, "s": "+"}, {"lane": 7, "s": "—"}, {"lane": 8, "s": "+"}, {"lane": 9, "s": "—"}, {"lane": 10, "s": "+"}]},
     "encoding": {"x": {"field": "lane", "type": "ordinal", "scale": {"paddingInner": 0, "paddingOuter": 0}, "axis": null}, "y": {"datum": "Stretch (3 min)", "type": "nominal", "axis": null}},
     "layer": [
      {"mark": {"type": "rect", "fill": "white", "stroke": "black", "strokeWidth": 1}, "encoding": {}},
      {"mark": {"type": "text", "fontSize": 14}, "encoding": {"text": {"field": "s"}}}
     ]}
   ]}
]}
],
"config": {
 "font": "Liberation Serif",
 "view": {"stroke": null},
 "axis": {"labelFontWeight": "bold", "labelFontSize": 12, "labelColor": "black", "labelOverlap": false, "format": "d", "titleFontWeight": "bold", "titleFontSize": 13, "titleColor": "black", "titleLineHeight": 15, "domainColor": "black", "domainWidth": 2, "tickColor": "black", "tickWidth": 2, "tickSize": 4, "grid": false, "labelPadding": 1, "titlePadding": 5},
 "text": {"fontWeight": "bold", "color": "black"}
}
}
